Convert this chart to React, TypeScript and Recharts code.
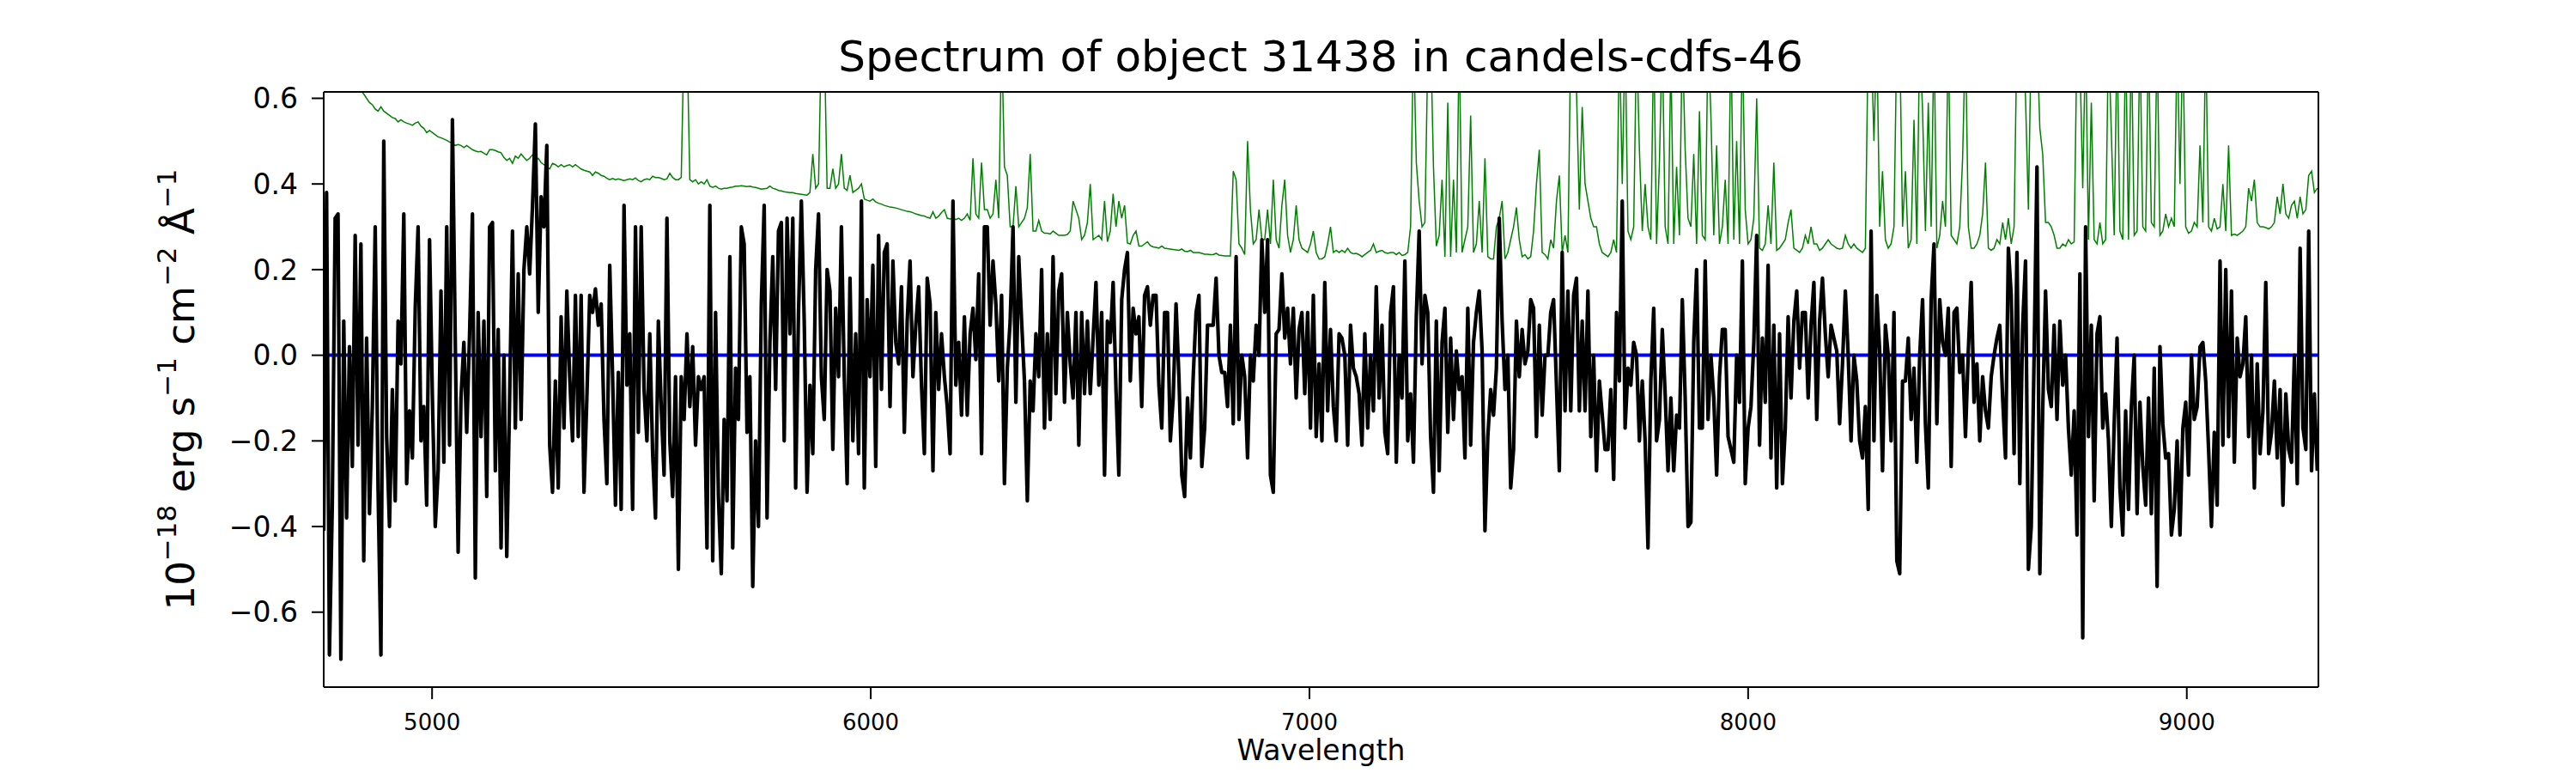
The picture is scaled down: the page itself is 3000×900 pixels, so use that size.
import React from "react";
import { LineChart, Line, XAxis, YAxis, ReferenceLine, Label } from "recharts";

// wavelength grid of the extracted spectrum (Angstrom)
const WAVE_START = 4753;
const WAVE_STEP = 6.52;
const WAVE_MIN = 4753;
const WAVE_MAX = 9300;

const X_TICKS = [5000, 6000, 7000, 8000, 9000];
const Y_TICKS = [-0.6, -0.4, -0.2, 0, 0.2, 0.4, 0.6];
const Y_MIN = -0.775;
const Y_MAX = 0.615;

// flux, 1e-18 erg/s/cm2/A in six chunks
const FLUX_A = [
  -0.41, 0.38, -0.7, -0.35, 0.32, 0.33, -0.71, 0.08, -0.38, 0.02,
  -0.26, 0.28, -0.21, 0.26, -0.48, 0.04, -0.37, -0.12, 0.3, -0.31,
  -0.7, 0.5, -0.19, -0.4, -0.08, -0.34, 0.08, -0.02, 0.33, -0.3,
  -0.13, -0.24, 0.11, 0.3, -0.2, -0.12, -0.35, 0.27, -0.1, -0.4,
  -0.27, 0.15, -0.25, 0.3, -0.21, 0.55, 0.03, -0.46, -0.1, 0.03,
  -0.18, 0.05, 0.33, -0.52, 0.1, -0.19, 0.08, -0.33, 0.3, 0.31,
  -0.27, 0.06, -0.45, 0.0, -0.47, -0.1, 0.29, -0.17, 0.19, -0.15,
  0.2, 0.3, 0.19, 0.35, 0.54, 0.1, 0.37, 0.3, 0.49, -0.21,
  -0.32, -0.06, -0.31, 0.09, -0.17, 0.15, -0.05, -0.2, 0.14, -0.19,
  0.14, -0.32, -0.1, 0.14, 0.1, 0.155, 0.07, 0.12, -0.15, -0.3,
  0.21, -0.05, -0.35, -0.04, -0.36, 0.35, -0.07, 0.05, -0.36, 0.3,
  -0.18, 0.3, -0.08, -0.2, 0.05,
];
const FLUX_B = [
  -0.23, -0.38, 0.08, -0.12, -0.28, 0.32, -0.2, -0.33, -0.05, -0.5,
  -0.05, -0.15, 0.05, -0.12, 0.02, -0.21, -0.05, -0.08, -0.05, -0.45,
  0.35, -0.48, 0.1, -0.33, -0.51, -0.15, -0.34, 0.23, -0.45, -0.03,
  -0.15, 0.3, 0.26, -0.18, -0.05, -0.54, -0.2, -0.4, 0.12, 0.35,
  -0.38, 0.03, 0.23, -0.08, 0.29, 0.31, -0.2, 0.32, 0.05, 0.32,
  -0.31, 0.1, 0.36, 0.08, -0.32, -0.07, -0.23, 0.2, 0.33, -0.05,
  -0.15, 0.2, 0.15, -0.22, 0.11, -0.05, 0.3, -0.05, -0.3, 0.18,
  -0.2, 0.05, -0.23, 0.36, -0.31, 0.13, -0.05, 0.21, -0.26, 0.28,
  -0.08, 0.24, 0.26, -0.12, 0.22, 0.03, -0.02, 0.16, -0.18, 0.08,
  0.22, -0.05, 0.07, 0.16, -0.07, -0.23, 0.18, 0.12, -0.27, 0.1,
  -0.08, 0.05, -0.05, -0.12, -0.23, 0.36, -0.07, 0.03, -0.14, 0.09,
  -0.14, 0.05, 0.11, -0.01, 0.19, -0.23, 0.3,
];
const FLUX_C = [
  0.3, 0.07, 0.22, 0.12, -0.06, 0.14, -0.3, -0.03, 0.08, 0.3,
  -0.11, 0.23, 0.08, -0.06, -0.34, -0.06, -0.13, 0.05, -0.05, 0.2,
  -0.17, 0.05, -0.15, 0.23, -0.09, 0.15, 0.19, -0.11, 0.1, -0.02,
  -0.1, 0.1, -0.21, 0.1, -0.09, 0.08, -0.09, 0.04, 0.17, -0.07,
  0.1, -0.28, 0.08, 0.03, 0.17, -0.08, -0.28, 0.13, 0.2, 0.24,
  -0.06, 0.11, 0.05, 0.09, -0.12, 0.14, 0.16, 0.07, 0.14, 0.14,
  -0.07, -0.17, 0.1, 0.1, -0.2, -0.1, 0.12, -0.05, -0.28, -0.33,
  -0.1, -0.24, -0.05, 0.1, 0.14, -0.26, -0.17, 0.07, 0.07, 0.07,
  0.18, 0.0, -0.04, -0.04, -0.12, 0.07, -0.16, 0.23, -0.15, 0.0,
  -0.05, -0.24, 0.0, -0.06, 0.07, 0.0, 0.27, 0.1, 0.27, -0.28,
  -0.32, 0.05, 0.06, 0.19, 0.04, 0.11, -0.02, 0.11, -0.1, 0.06,
  0.1, -0.09, 0.1, -0.17, 0.14, -0.19, -0.02,
];
const FLUX_D = [
  -0.2, 0.17, -0.13, 0.06, -0.12, -0.2, 0.05, 0.04, 0.0, -0.21,
  0.07, -0.03, -0.05, -0.09, -0.21, 0.05, -0.17, 0.0, -0.13, 0.16,
  -0.1, 0.07, -0.18, -0.23, 0.1, 0.16, -0.25, 0.0, -0.1, 0.22,
  -0.2, -0.09, -0.25, 0.09, 0.29, -0.02, 0.14, 0.1, -0.19, -0.32,
  0.08, -0.27, 0.03, 0.11, -0.18, 0.04, -0.15, 0.01, -0.08, -0.05,
  -0.24, 0.11, -0.21, 0.03, 0.1, 0.15, 0.01, -0.41, -0.19, -0.08,
  -0.14, -0.03, 0.32, 0.08, -0.08, 0.0, -0.31, -0.22, 0.08, -0.05,
  0.06, -0.02, 0.01, 0.13, 0.11, -0.19, 0.07, -0.14, 0.0, 0.0,
  0.1, 0.13, -0.07, -0.27, 0.24, -0.13, 0.15, -0.13, 0.14, 0.18,
  -0.13, 0.08, -0.13, 0.15, -0.19, 0.0, -0.27, -0.06, -0.14, -0.22,
  -0.22, -0.08, -0.29, 0.1, -0.06, 0.36, -0.17, -0.03, -0.07, 0.03,
  0.0, -0.2, -0.06, -0.2, -0.45, -0.06, 0.11,
];
const FLUX_E = [
  -0.2, -0.15, 0.06, -0.09, -0.27, -0.1, -0.27, -0.14, -0.17, 0.13,
  -0.1, -0.4, -0.39, 0.03, 0.2, -0.17, -0.17, 0.22, -0.15, 0.0,
  -0.1, -0.28, -0.05, 0.06, 0.06, -0.19, -0.22, -0.25, 0.0, -0.11,
  0.22, -0.3, -0.17, -0.12, 0.03, 0.28, -0.21, 0.04, -0.11, 0.21,
  -0.24, 0.07, -0.31, 0.05, -0.3, -0.17, 0.09, -0.1, 0.08, 0.15,
  -0.03, 0.1, 0.1, -0.1, 0.07, 0.17, -0.15, 0.08, 0.18, 0.05,
  -0.05, 0.07, 0.04, 0.01, -0.16, -0.02, 0.15, 0.0, -0.2, 0.0,
  -0.06, -0.2, -0.24, -0.12, -0.36, 0.29, -0.2, 0.14, 0.01, -0.27,
  0.07, 0.0, -0.2, 0.1, -0.48, -0.51, -0.06, -0.06, 0.04, -0.15,
  -0.03, -0.25, 0.0, 0.13, -0.16, -0.31, 0.13, 0.26, -0.16, 0.13,
  0.03, 0.0, 0.11, -0.26, 0.1, 0.11, -0.04, 0.0, -0.19, 0.01,
  0.17, -0.11, -0.02, -0.2, -0.05, -0.13, -0.17,
];
const FLUX_F = [
  -0.05, 0.0, 0.04, 0.07, -0.1, -0.24, 0.25, 0.14, -0.23, 0.24,
  -0.3, 0.07, 0.22, -0.5, -0.4, 0.0, 0.44, -0.51, -0.13, 0.15,
  -0.08, -0.12, 0.07, -0.15, 0.08, -0.07, 0.0, -0.17, -0.28, -0.13,
  -0.42, 0.19, -0.66, 0.3, -0.19, 0.07, -0.34, 0.05, 0.09, -0.17,
  -0.09, -0.2, -0.4, -0.16, 0.04, -0.31, -0.42, -0.13, -0.36, -0.12,
  0.0, -0.37, -0.11, -0.26, -0.35, -0.1, -0.37, -0.03, -0.54, 0.02,
  -0.16, -0.24, -0.23, -0.42, -0.36, -0.2, -0.42, -0.17, -0.11, -0.28,
  0.0, -0.15, -0.12, 0.02, 0.03, -0.06, -0.22, -0.4, -0.18, -0.35,
  0.22, -0.21, 0.2, -0.19, 0.15, -0.25, 0.04, -0.05, -0.02, 0.09,
  -0.19, 0.0, -0.31, -0.02, -0.23, -0.13, 0.17, -0.23, -0.18, -0.06,
  -0.24, -0.08, -0.35, -0.09, -0.22, -0.25, 0.0, -0.3, 0.25, -0.17,
  -0.22, 0.29, -0.27, -0.09, -0.27,
];

// sky / noise spectrum (green), same grid
const SKY_A = [
  0.72, 0.71, 0.7, 0.69, 0.68, 0.67, 0.66, 0.655, 0.65, 0.64,
  0.635, 0.63, 0.625, 0.618, 0.61, 0.6, 0.59, 0.585, 0.575, 0.57,
  0.58, 0.57, 0.565, 0.56, 0.555, 0.553, 0.545, 0.55, 0.545, 0.542,
  0.54, 0.537, 0.542, 0.545, 0.535, 0.53, 0.52, 0.525, 0.52, 0.515,
  0.51, 0.508, 0.505, 0.502, 0.498, 0.495, 0.49, 0.492, 0.49, 0.485,
  0.49, 0.485, 0.48, 0.477, 0.475, 0.476, 0.472, 0.468, 0.48, 0.48,
  0.478, 0.475, 0.473, 0.462, 0.455, 0.46, 0.448, 0.465, 0.46, 0.47,
  0.462, 0.455, 0.46, 0.468, 0.455, 0.46, 0.45, 0.445, 0.44, 0.435,
  0.448, 0.445, 0.44, 0.445, 0.44, 0.443, 0.445, 0.44, 0.445, 0.44,
  0.435, 0.432, 0.43, 0.428, 0.42, 0.428, 0.425, 0.42, 0.418, 0.413,
  0.41, 0.413, 0.41, 0.412, 0.41, 0.408, 0.41, 0.412, 0.41, 0.414,
  0.408, 0.405, 0.41, 0.412, 0.41,
];
const SKY_B = [
  0.418, 0.415, 0.415, 0.413, 0.41, 0.412, 0.425, 0.415, 0.41, 0.41,
  0.415, 0.75, 0.75, 0.41, 0.405, 0.41, 0.4, 0.405, 0.4, 0.41,
  0.395, 0.392, 0.395, 0.39, 0.388, 0.39, 0.39, 0.392, 0.393, 0.395,
  0.395, 0.396, 0.395, 0.394, 0.395, 0.393, 0.392, 0.39, 0.388, 0.389,
  0.39, 0.395, 0.39, 0.388, 0.385, 0.384, 0.382, 0.381, 0.38, 0.38,
  0.378, 0.377, 0.376, 0.375, 0.374, 0.38, 0.47, 0.39, 0.4, 0.75,
  0.75, 0.39, 0.39, 0.436, 0.39, 0.4, 0.47, 0.39, 0.385, 0.42,
  0.38, 0.385, 0.39, 0.4, 0.365, 0.362, 0.36, 0.365, 0.358, 0.355,
  0.353, 0.35, 0.348, 0.346, 0.345, 0.344, 0.342, 0.34, 0.338, 0.336,
  0.335, 0.333, 0.33, 0.328, 0.326, 0.325, 0.322, 0.32, 0.335, 0.32,
  0.325, 0.333, 0.34, 0.32, 0.318, 0.32, 0.317, 0.32, 0.315, 0.32,
  0.33, 0.315, 0.46, 0.33, 0.32, 0.45, 0.34,
];
const SKY_C = [
  0.34, 0.32, 0.33, 0.41, 0.32, 0.75, 0.44, 0.42, 0.3, 0.3,
  0.395, 0.3, 0.31, 0.32, 0.345, 0.47, 0.29, 0.29, 0.315, 0.29,
  0.285, 0.285, 0.283, 0.29, 0.285, 0.28, 0.28, 0.28, 0.282, 0.29,
  0.36, 0.34, 0.32, 0.27, 0.28, 0.31, 0.4, 0.27, 0.275, 0.28,
  0.27, 0.36, 0.265, 0.29, 0.377, 0.3, 0.36, 0.32, 0.35, 0.262,
  0.26, 0.28, 0.29, 0.255, 0.255, 0.26, 0.265, 0.256, 0.253, 0.252,
  0.25, 0.255, 0.25, 0.249, 0.248, 0.247, 0.246, 0.245, 0.248, 0.243,
  0.242, 0.245, 0.24, 0.24, 0.24, 0.238, 0.236, 0.236, 0.235, 0.235,
  0.238, 0.234, 0.233, 0.232, 0.232, 0.232, 0.43, 0.41, 0.26, 0.25,
  0.235, 0.5, 0.34, 0.26, 0.27, 0.34, 0.27, 0.27, 0.34, 0.26,
  0.41, 0.27, 0.25, 0.35, 0.41, 0.28, 0.24, 0.27, 0.35, 0.27,
  0.25, 0.245, 0.24, 0.26, 0.29, 0.24, 0.225,
];
const SKY_D = [
  0.225, 0.23, 0.26, 0.3, 0.24, 0.245, 0.24, 0.245, 0.24, 0.25,
  0.24, 0.237, 0.238, 0.235, 0.23, 0.235, 0.24, 0.245, 0.26, 0.24,
  0.243, 0.245, 0.24, 0.238, 0.24, 0.24, 0.235, 0.24, 0.233, 0.235,
  0.24, 0.3, 0.75, 0.45, 0.36, 0.3, 0.31, 0.7, 0.75, 0.44,
  0.255, 0.28, 0.41, 0.23, 0.59, 0.23, 0.41, 0.24, 0.75, 0.24,
  0.27, 0.3, 0.56, 0.24, 0.26, 0.36, 0.24, 0.46, 0.23, 0.225,
  0.225, 0.3, 0.32, 0.36, 0.225, 0.24, 0.27, 0.3, 0.345, 0.27,
  0.23, 0.235, 0.225, 0.23, 0.29, 0.4, 0.48, 0.24, 0.235, 0.225,
  0.27, 0.25, 0.36, 0.42, 0.24, 0.28, 0.24, 0.75, 0.75, 0.62,
  0.34, 0.58, 0.4, 0.36, 0.32, 0.3, 0.3, 0.26, 0.24, 0.235,
  0.23, 0.24, 0.27, 0.24, 0.75, 0.4, 0.75, 0.29, 0.27, 0.3,
  0.75, 0.48, 0.29, 0.4, 0.3, 0.27, 0.75,
];
const SKY_E = [
  0.26, 0.45, 0.75, 0.3, 0.26, 0.7, 0.26, 0.44, 0.28, 0.75,
  0.48, 0.32, 0.3, 0.47, 0.26, 0.57, 0.28, 0.27, 0.75, 0.56,
  0.28, 0.49, 0.26, 0.3, 0.41, 0.26, 0.75, 0.27, 0.5, 0.26,
  0.75, 0.34, 0.26, 0.27, 0.32, 0.6, 0.25, 0.245, 0.26, 0.35,
  0.26, 0.45, 0.245, 0.25, 0.26, 0.27, 0.31, 0.34, 0.25, 0.245,
  0.24, 0.25, 0.28, 0.26, 0.3, 0.26, 0.26, 0.245, 0.25, 0.26,
  0.27, 0.26, 0.255, 0.25, 0.248, 0.25, 0.28, 0.26, 0.25, 0.26,
  0.25, 0.245, 0.24, 0.25, 0.75, 0.75, 0.5, 0.75, 0.3, 0.43,
  0.27, 0.25, 0.26, 0.3, 0.75, 0.75, 0.3, 0.43, 0.25, 0.27,
  0.55, 0.26, 0.75, 0.57, 0.29, 0.59, 0.3, 0.75, 0.25, 0.28,
  0.36, 0.3, 0.75, 0.28, 0.27, 0.26, 0.3, 0.46, 0.75, 0.3,
  0.25, 0.25, 0.26, 0.28, 0.33, 0.45, 0.25,
];
const SKY_F = [
  0.245, 0.25, 0.27, 0.26, 0.31, 0.27, 0.32, 0.26, 0.3, 0.75,
  0.75, 0.75, 0.6, 0.34, 0.75, 0.75, 0.75, 0.53, 0.47, 0.31,
  0.31, 0.3, 0.28, 0.25, 0.25, 0.26, 0.255, 0.27, 0.26, 0.265,
  0.75, 0.7, 0.39, 0.75, 0.27, 0.59, 0.27, 0.26, 0.31, 0.26,
  0.27, 0.75, 0.52, 0.28, 0.75, 0.29, 0.27, 0.75, 0.27, 0.75,
  0.28, 0.29, 0.75, 0.3, 0.29, 0.75, 0.31, 0.3, 0.75, 0.28,
  0.29, 0.33, 0.3, 0.32, 0.3, 0.75, 0.4, 0.75, 0.3, 0.285,
  0.29, 0.31, 0.3, 0.49, 0.31, 0.75, 0.3, 0.29, 0.32, 0.295,
  0.3, 0.4, 0.29, 0.49, 0.28, 0.283, 0.28, 0.285, 0.29, 0.3,
  0.39, 0.36, 0.41, 0.31, 0.3, 0.3, 0.298, 0.295, 0.3, 0.31,
  0.37, 0.33, 0.4, 0.33, 0.32, 0.35, 0.36, 0.32, 0.37, 0.33,
  0.34, 0.42, 0.43, 0.38, 0.39,
];

const FLUX_CHUNKS = [FLUX_A, FLUX_B, FLUX_C, FLUX_D, FLUX_E, FLUX_F];
const SKY_CHUNKS = [SKY_A, SKY_B, SKY_C, SKY_D, SKY_E, SKY_F];

const data: { wave: number; flux: number; sky: number }[] = [];
FLUX_CHUNKS.forEach((chunk, c) => {
  chunk.forEach((f, k) => {
    data.push({
      wave: WAVE_START + data.length * WAVE_STEP,
      flux: f,
      sky: SKY_CHUNKS[c][k],
    });
  });
});

const FONT = "DejaVu Sans";
const axisStroke = { stroke: "#000", strokeWidth: 2 };

const fmtY = (v: number) => v.toFixed(1).replace("-", "\u2212");

const renderTitle = () => (
  <text x={1538} y={83} textAnchor="middle" fontSize={50} fontFamily={FONT} fill="#000">
    Spectrum of object 31438 in candels-cdfs-46
  </text>
);

const renderXLabel = (props: any) => {
  const vb = props.viewBox || {};
  return (
    <text x={vb.x + vb.width / 2} y={885} textAnchor="middle" fontSize={33} fontFamily={FONT} fill="#000">
      Wavelength
    </text>
  );
};

const renderYLabel = (props: any) => {
  const vb = props.viewBox || {};
  const cy = vb.y + vb.height / 2;
  const sup = 31;
  const up = 21;
  return (
    <text
      transform={`translate(226, ${cy}) rotate(-90)`}
      textAnchor="middle"
      fontSize={45}
      fontFamily={FONT}
      fill="#000"
    >
      <tspan>10</tspan>
      <tspan dy={-up} fontSize={sup}>{"\u221218"}</tspan>
      <tspan dy={up}>{" erg s"}</tspan>
      <tspan dy={-up} fontSize={sup}>{"\u22121"}</tspan>
      <tspan dy={up}>{" cm"}</tspan>
      <tspan dy={-up} fontSize={sup}>{"\u22122"}</tspan>
      <tspan dy={up}>{" \u00c5"}</tspan>
      <tspan dy={-up} fontSize={sup}>{"\u22121"}</tspan>
    </text>
  );
};

export default function App() {
  return (
    <div style={{ position: "absolute", left: 0, top: 0, width: 3000, height: 900, background: "#fff" }}>
      <LineChart width={3000} height={900} data={data} margin={{ top: 106, right: 299, bottom: 40, left: 277 }}>
        <XAxis
          dataKey="wave"
          type="number"
          domain={[WAVE_MIN, WAVE_MAX]}
          ticks={X_TICKS}
          interval={0}
          allowDataOverflow
          height={60}
          tickSize={14}
          tickMargin={18}
          tick={{ fontSize: 26, fill: "#000", fontFamily: FONT }}
          axisLine={axisStroke}
          tickLine={axisStroke}
        >
          <Label content={renderXLabel} />
        </XAxis>
        <XAxis
          xAxisId="top"
          orientation="top"
          dataKey="wave"
          type="number"
          domain={[WAVE_MIN, WAVE_MAX]}
          allowDataOverflow
          height={1}
          tick={false}
          tickLine={false}
          axisLine={axisStroke}
        >
          <Label content={renderTitle} />
        </XAxis>
        <YAxis
          type="number"
          domain={[Y_MIN, Y_MAX]}
          ticks={Y_TICKS}
          interval={0}
          allowDataOverflow
          width={100}
          tickSize={14}
          tickMargin={16}
          tickFormatter={fmtY}
          tick={{ fontSize: 33, fill: "#000", fontFamily: FONT }}
          axisLine={axisStroke}
          tickLine={axisStroke}
        >
          <Label content={renderYLabel} />
        </YAxis>
        <YAxis
          yAxisId="right"
          orientation="right"
          type="number"
          domain={[Y_MIN, Y_MAX]}
          allowDataOverflow
          width={1}
          tick={false}
          tickLine={false}
          axisLine={axisStroke}
        />
        <ReferenceLine y={0} stroke="#0000ff" strokeWidth={4} />
        <Line
          dataKey="sky"
          stroke="#008000"
          strokeWidth={1.5}
          dot={false}
          activeDot={false}
          isAnimationActive={false}
        />
        <Line
          dataKey="flux"
          stroke="#000000"
          strokeWidth={4.2}
          strokeLinejoin="round"
          dot={false}
          activeDot={false}
          isAnimationActive={false}
        />
      </LineChart>
    </div>
  );
}
